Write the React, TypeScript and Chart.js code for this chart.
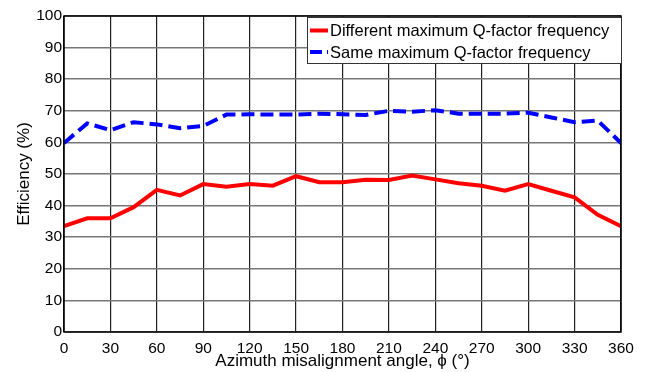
import React, { useEffect, useRef } from "react";
import { Chart, registerables } from "chart.js";

Chart.register(...registerables);

const angles = [0, 15, 30, 45, 60, 75, 90, 105, 120, 135, 150, 165, 180, 195, 210, 225, 240, 255, 270, 285, 300, 315, 330, 345, 360];
const differentQ = [33.5, 36, 36, 39.5, 45, 43.2, 46.8, 46, 46.8, 46.3, 49.3, 47.4, 47.4, 48.2, 48.1, 49.5, 48.3, 47.1, 46.3, 44.7, 46.8, 44.7, 42.6, 37.1, 33.5];
const sameQ = [59.8, 66, 63.9, 66.4, 65.7, 64.5, 65.2, 68.8, 68.9, 68.8, 68.8, 69.1, 68.9, 68.7, 70, 69.7, 70.2, 69.1, 69.1, 69.1, 69.4, 67.9, 66.4, 66.9, 59.8];
const seriesLabels = ["Different maximum Q-factor frequency", "Same maximum Q-factor frequency"];
const xTicks = [0, 30, 60, 90, 120, 150, 180, 210, 240, 270, 300, 330, 360];

const FONT = "'Liberation Sans', Arial, sans-serif";

const framePlugin = {
  id: "frameAndLegend",
  afterDraw(chart: any) {
    const { ctx, chartArea } = chart;
    const { left, right, top, bottom } = chartArea;
    ctx.save();
    ctx.strokeStyle = "#000";
    ctx.lineWidth = 1.5;
    ctx.strokeRect(left, top, right - left, bottom - top);

    // legend box
    const bx = 307, by = 17, bw = 314, bh = 46;
    ctx.fillStyle = "#fff";
    ctx.fillRect(bx, by, bw, bh);
    ctx.strokeStyle = "#333";
    ctx.lineWidth = 1;
    ctx.strokeRect(bx + 0.5, by + 0.5, bw, bh);
    ctx.font = `16.5px ${FONT}`;
    ctx.textBaseline = "middle";
    ctx.textAlign = "left";
    chart.data.datasets.forEach((ds: any, i: number) => {
      const cy = by + 13.5 + i * 21.5;
      ctx.strokeStyle = ds.borderColor;
      ctx.lineWidth = 4;
      ctx.setLineDash(ds.borderDash ? [12, 5] : []);
      ctx.beginPath();
      ctx.moveTo(bx + 3, cy);
      ctx.lineTo(bx + 21, cy);
      ctx.stroke();
      ctx.setLineDash([]);
      ctx.fillStyle = "#000";
      ctx.fillText(ds.label, bx + 23, cy + 1);
    });
    ctx.restore();
  },
};

export default function App() {
  const ref = useRef<HTMLCanvasElement>(null);
  useEffect(() => {
    if (!ref.current) return;
    const chart = new Chart(ref.current, {
      type: "line",
      data: {
        datasets: [
          {
            label: seriesLabels[0],
            data: angles.map((a, i) => ({ x: a, y: differentQ[i] })),
            borderColor: "#ff0000",
            backgroundColor: "#ff0000",
            borderWidth: 4,
            pointRadius: 0,
            tension: 0,
          },
          {
            label: seriesLabels[1],
            data: angles.map((a, i) => ({ x: a, y: sameQ[i] })),
            borderColor: "#0000ff",
            backgroundColor: "#0000ff",
            borderWidth: 4,
            borderDash: [13, 6],
            pointRadius: 0,
            tension: 0,
          },
        ],
      },
      options: {
        animation: false,
        responsive: false,
        maintainAspectRatio: false,
        layout: { padding: { left: 0, right: 28, top: 16, bottom: 0 } },
        plugins: { legend: { display: false }, tooltip: { enabled: false } },
        scales: {
          x: {
            type: "linear",
            min: 0,
            max: 360,
            afterBuildTicks: (axis: any) => {
              axis.ticks = xTicks.map((v) => ({ value: v }));
            },
            afterFit: (axis: any) => {
              axis.height = 40;
            },
            grid: { color: "#222", lineWidth: 1.2, drawTicks: false },
            border: { display: false },
            ticks: { color: "#000", font: { family: FONT, size: 15.5 }, padding: 7, maxRotation: 0, autoSkip: false },
            title: {
              display: true,
              text: "Azimuth misalignment angle, ϕ (°)",
              color: "#000",
              font: { family: FONT, size: 17 },
              padding: { top: 0, bottom: 0 },
            },
          },
          y: {
            min: 0,
            max: 100,
            ticks: { stepSize: 10, color: "#000", font: { family: FONT, size: 15.5 }, padding: 2 },
            afterFit: (axis: any) => {
              axis.width = 64;
            },
            grid: { color: "#777", lineWidth: 1.5, drawTicks: false },
            border: { display: false },
            title: {
              display: true,
              text: "Efficiency (%)",
              color: "#000",
              font: { family: FONT, size: 17 },
              padding: { top: 14, bottom: 0 },
            },
          },
        },
      },
      plugins: [framePlugin],
    });
    return () => chart.destroy();
  }, []);
  return (
    <div style={{ position: "absolute", left: 0, top: 0, width: 649, height: 372, background: "#fff" }}>
      <canvas ref={ref} width={649} height={372} />
    </div>
  );
}
